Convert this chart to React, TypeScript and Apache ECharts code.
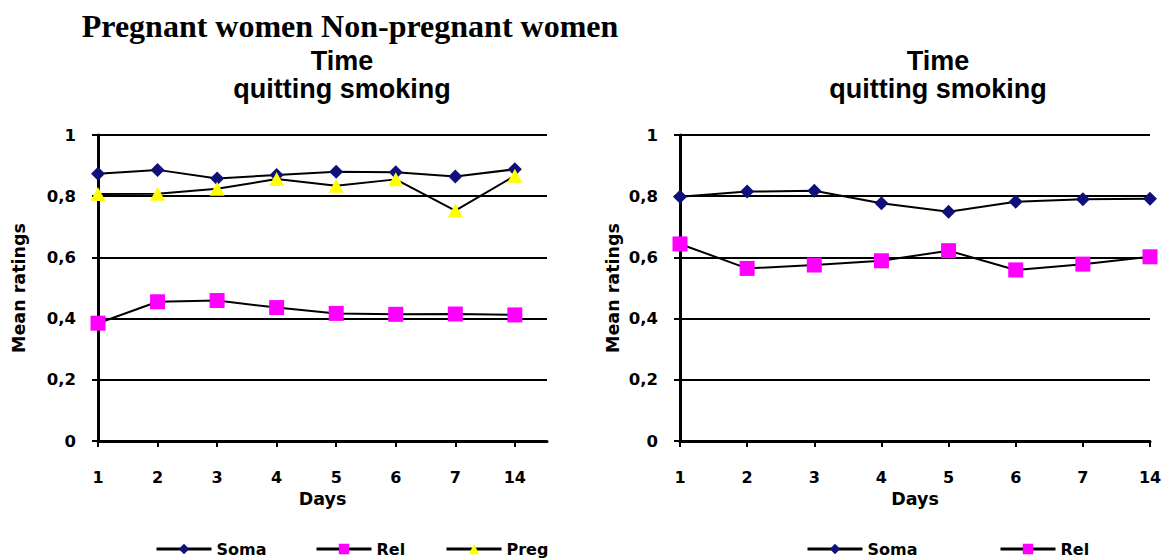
import React, { useEffect, useRef } from "react";
import * as echarts from "echarts";

const days = ["1", "2", "3", "4", "5", "6", "7", "14"];

// Pregnant women
const pregSoma = [0.873, 0.886, 0.858, 0.869, 0.88, 0.878, 0.864, 0.888];
const pregRel = [0.385, 0.455, 0.459, 0.436, 0.417, 0.414, 0.415, 0.412];
const pregPreg = [0.807, 0.808, 0.824, 0.856, 0.834, 0.855, 0.753, 0.867];

// Non-pregnant women
const nonSoma = [0.798, 0.815, 0.818, 0.777, 0.749, 0.782, 0.79, 0.792];
const nonRel = [0.644, 0.564, 0.575, 0.589, 0.622, 0.559, 0.578, 0.602];

const SOMA = "#10107a";
const REL = "#ff00ff";
const PREG = "#ffff00";
const SANS = "'Liberation Sans', Arial, sans-serif";
const HEAVY = "'DejaVu Sans', 'Liberation Sans', sans-serif";

function fmtY(v: number): string {
  const r = Math.round(v * 10) / 10;
  if (r === 0) return "0";
  if (r === 1) return "1";
  return r.toFixed(1).replace(".", ",");
}

export default function App() {
  const ref = useRef<HTMLDivElement>(null);

  useEffect(() => {
    if (!ref.current) return;
    const chart = echarts.init(ref.current, undefined, { renderer: "svg" });

    const yAxisBase = (gridIndex: number, nameGap: number) => ({
      type: "value",
      gridIndex,
      min: 0,
      max: 1,
      interval: 0.2,
      name: "Mean ratings",
      nameLocation: "middle",
      nameGap,
      nameRotate: 90,
      nameTextStyle: { fontFamily: HEAVY, fontWeight: "bold", fontSize: 17.5, color: "#000" },
      axisLine: { show: true, lineStyle: { color: "#000", width: 3 } },
      axisTick: { show: true, inside: false, length: 6, lineStyle: { color: "#000", width: 2 } },
      axisLabel: {
        margin: 22,
        fontFamily: HEAVY,
        fontWeight: "bold",
        fontSize: 16.5,
        color: "#000",
        formatter: (v: number) => fmtY(v),
      },
      splitLine: { show: true, lineStyle: { color: "#000", width: 2 } },
    });

    const xCommon = {
      name: "Days",
      nameLocation: "middle",
      nameGap: 46,
      nameTextStyle: { fontFamily: HEAVY, fontWeight: "bold", fontSize: 17.5, color: "#000" },
      axisLine: { show: true, lineStyle: { color: "#000", width: 3 } },
      axisTick: { show: true, inside: false, length: 6, lineStyle: { color: "#000", width: 2 } },
      splitLine: { show: false },
    };

    const xLabel = {
      margin: 28,
      fontFamily: HEAVY,
      fontWeight: "bold",
      fontSize: 16,
      color: "#000",
    };

    const lineCommon = {
      type: "line",
      lineStyle: { color: "#000", width: 2 },
      emphasis: { disabled: true },
    };

    const legendCommon = {
      orient: "horizontal",
      top: 541,
      padding: 0,
      itemWidth: 55,
      itemHeight: 13,
      itemGap: 0,
      selectedMode: false,
      lineStyle: { width: 3, color: "#000" },
      textStyle: { fontFamily: HEAVY, fontWeight: "bold", fontSize: 16, color: "#000" },
    };

    const idx = days.map((_, i) => i);

    chart.setOption({
      animation: false,
      backgroundColor: "#ffffff",
      graphic: [
        {
          type: "text",
          x: 350,
          y: 26,
          style: {
            text: "Pregnant women Non-pregnant women",
            fontFamily: "'Liberation Serif', 'Times New Roman', serif",
            fontWeight: "bold",
            fontSize: 32,
            fill: "#000",
            align: "center",
            verticalAlign: "middle",
          },
        },
        {
          type: "text",
          x: 342,
          y: 61,
          style: { text: "Time", fontFamily: SANS, fontWeight: "bold", fontSize: 27, fill: "#000", align: "center", verticalAlign: "middle" },
        },
        {
          type: "text",
          x: 342,
          y: 89,
          style: { text: "quitting smoking", fontFamily: SANS, fontWeight: "bold", fontSize: 27, fill: "#000", align: "center", verticalAlign: "middle" },
        },
        {
          type: "text",
          x: 938,
          y: 61,
          style: { text: "Time", fontFamily: SANS, fontWeight: "bold", fontSize: 27, fill: "#000", align: "center", verticalAlign: "middle" },
        },
        {
          type: "text",
          x: 938,
          y: 89,
          style: { text: "quitting smoking", fontFamily: SANS, fontWeight: "bold", fontSize: 27, fill: "#000", align: "center", verticalAlign: "middle" },
        },
      ],
      grid: [
        { left: 98, top: 135, width: 449, height: 306, containLabel: false },
        { left: 680, top: 135, width: 470, height: 306, containLabel: false },
      ],
      xAxis: [
        {
          ...xCommon,
          type: "value",
          gridIndex: 0,
          min: 0,
          max: 7.54,
          axisTick: { ...xCommon.axisTick, customValues: idx },
          axisLabel: {
            ...xLabel,
            customValues: idx,
            formatter: (v: number) => days[Math.round(v)] ?? "",
          },
        },
        {
          ...xCommon,
          type: "category",
          gridIndex: 1,
          boundaryGap: false,
          data: days,
          axisLabel: { ...xLabel, interval: 0 },
        },
      ],
      yAxis: [yAxisBase(0, 70), yAxisBase(1, 58)],
      legend: [
        { ...legendCommon, left: 155, data: ["Soma"] },
        { ...legendCommon, left: 315, data: ["Rel"] },
        { ...legendCommon, left: 445, data: ["Preg"] },
        { ...legendCommon, left: 806, data: ["Soma"] },
        { ...legendCommon, left: 999, data: ["Rel"] },
      ],
      series: [
        {
          ...lineCommon,
          name: "Soma",
          xAxisIndex: 0,
          yAxisIndex: 0,
          symbol: "diamond",
          symbolSize: 14,
          itemStyle: { color: SOMA },
          data: idx.map((i) => [i, pregSoma[i]]),
        },
        {
          ...lineCommon,
          name: "Rel",
          xAxisIndex: 0,
          yAxisIndex: 0,
          symbol: "rect",
          symbolSize: 15,
          itemStyle: { color: REL },
          data: idx.map((i) => [i, pregRel[i]]),
        },
        {
          ...lineCommon,
          name: "Preg",
          xAxisIndex: 0,
          yAxisIndex: 0,
          symbol: "triangle",
          symbolSize: [15, 14],
          itemStyle: { color: PREG },
          data: idx.map((i) => [i, pregPreg[i]]),
        },
        {
          ...lineCommon,
          name: "Soma",
          xAxisIndex: 1,
          yAxisIndex: 1,
          symbol: "diamond",
          symbolSize: 14,
          itemStyle: { color: SOMA },
          data: nonSoma,
        },
        {
          ...lineCommon,
          name: "Rel",
          xAxisIndex: 1,
          yAxisIndex: 1,
          symbol: "rect",
          symbolSize: 15,
          itemStyle: { color: REL },
          data: nonRel,
        },
      ],
    });

    return () => chart.dispose();
  }, []);

  return (
    <div
      ref={ref}
      style={{ position: "fixed", left: 0, top: 0, width: 1170, height: 560, background: "#fff" }}
    />
  );
}
